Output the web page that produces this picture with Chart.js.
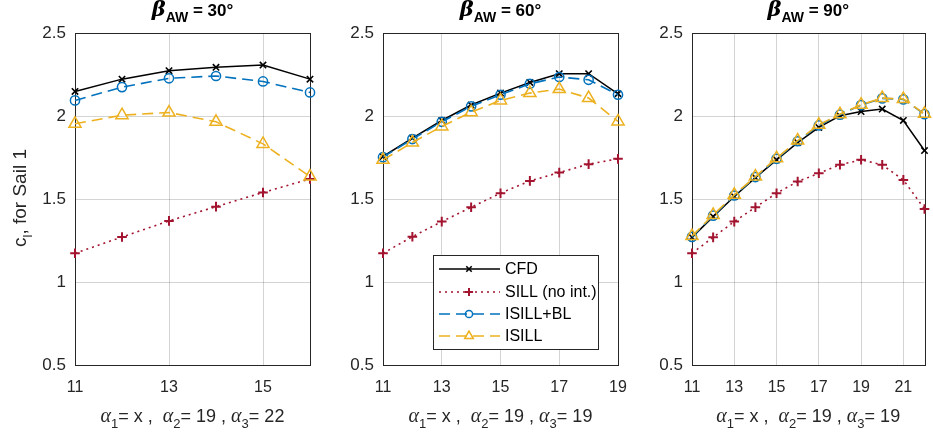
<!DOCTYPE html>
<html>
<head>
<meta charset="utf-8">
<script src="https://cdn.jsdelivr.net/npm/chart.js@4.4.1/dist/chart.umd.min.js"></script>
<style>
  html, body { margin: 0; padding: 0; background: #ffffff; }
  #wrap { position: relative; width: 933px; height: 435px; overflow: hidden; }
  #wrap canvas { position: absolute; left: 0; top: 0; }
</style>
</head>
<body>
<div id="wrap">
  <canvas id="c1" width="933" height="435"></canvas>
  <canvas id="c2" width="933" height="435"></canvas>
  <canvas id="c3" width="933" height="435"></canvas>
</div>
<script>
// Lift coefficient of sail 1 against its angle of attack alpha_1,
// for three apparent wind angles.

// beta_AW = 30 deg  (alpha_2 = 19, alpha_3 = 22)
const alphaP1   = [11, 12, 13, 14, 15, 16];
const cfdP1     = [2.148, 2.222, 2.273, 2.293, 2.307, 2.222];
const sillP1    = [1.173, 1.271, 1.368, 1.454, 1.539, 1.621];
const isillBlP1 = [2.094, 2.174, 2.227, 2.241, 2.208, 2.142];
const isillP1   = [1.953, 2.005, 2.021, 1.965, 1.832, 1.635];

// beta_AW = 60 deg  (alpha_2 = 19, alpha_3 = 19)
const alphaP2   = [11, 12, 13, 14, 15, 16, 17, 18, 19];
const cfdP2     = [1.756, 1.867, 1.973, 2.066, 2.138, 2.202, 2.255, 2.255, 2.134];
const sillP2    = [1.173, 1.273, 1.364, 1.450, 1.535, 1.609, 1.659, 1.710, 1.742];
const isillBlP2 = [1.752, 1.861, 1.965, 2.058, 2.128, 2.194, 2.235, 2.218, 2.128];
const isillP2   = [1.736, 1.840, 1.937, 2.023, 2.094, 2.138, 2.162, 2.108, 1.967];

// beta_AW = 90 deg  (alpha_2 = 19, alpha_3 = 19)
const alphaP3   = [11, 12, 13, 14, 15, 16, 17, 18, 19, 20, 21, 22];
const cfdP3     = [1.269, 1.394, 1.515, 1.629, 1.736, 1.840, 1.931, 2.001, 2.027, 2.042, 1.973, 1.792];
const sillP3    = [1.173, 1.269, 1.364, 1.450, 1.535, 1.605, 1.655, 1.706, 1.736, 1.706, 1.615, 1.440];
const isillBlP3 = [1.272, 1.400, 1.521, 1.632, 1.742, 1.848, 1.943, 2.008, 2.066, 2.106, 2.100, 2.011];
const isillP3   = [1.277, 1.404, 1.525, 1.635, 1.746, 1.852, 1.947, 2.011, 2.068, 2.108, 2.102, 2.013];

// Tick labels
const xTicksP1 = [11, 13, 15];
const xTicksP2 = [11, 13, 15, 17, 19];
const xTicksP3 = [11, 13, 15, 17, 19, 21];
const yTicks   = [0.5, 1, 1.5, 2, 2.5];

// Series names and panel captions
const seriesNames = ['CFD', 'SILL (no int.)', 'ISILL+BL', 'ISILL'];
const betaLabels  = ['30°', '60°', '90°'];
const alpha3Labels = ['22', '19', '19'];

// ---- styling ----
const AX = '#262626';
const GRID = 'rgba(0,0,0,0.17)';
const SANS = "'Liberation Sans', Arial, Helvetica, sans-serif";

const seriesStyle = [
  { color: '#000000', dash: [],      width: 1.5, point: 'crossRot', radius: 4.5, pw: 1.6, order: 3 },
  { color: '#A2142F', dash: [2, 4],  width: 1.6, point: 'cross',    radius: 4.8, pw: 2.0, order: 2 },
  { color: '#0072BD', dash: [11, 6], width: 1.6, point: 'circle',   radius: 4.6, pw: 1.5, order: 1 },
  { color: '#EDB120', dash: [11, 6], width: 1.6, point: 'triangle', radius: 7.0, pw: 1.5, order: 0 }
];

const TOP = 33, BOTTOM = 365, W = 933, H = 435;
const Y_AXIS_W = 40, X_AXIS_H = 30;

const panels = [
  { id: 'c1', left: 75,  right: 310, x: alphaP1, xMax: 16, xTicks: xTicksP1,
    series: [cfdP1, sillP1, isillBlP1, isillP1], beta: betaLabels[0], a3: alpha3Labels[0], legend: false, yTitle: true },
  { id: 'c2', left: 383, right: 618, x: alphaP2, xMax: 19, xTicks: xTicksP2,
    series: [cfdP2, sillP2, isillBlP2, isillP2], beta: betaLabels[1], a3: alpha3Labels[1], legend: true, yTitle: false },
  { id: 'c3', left: 692, right: 927, x: alphaP3, xMax: 22, xTicks: xTicksP3,
    series: [cfdP3, sillP3, isillBlP3, isillP3], beta: betaLabels[2], a3: alpha3Labels[2], legend: false, yTitle: false }
];

// Draw a run of text pieces {t, font, dy} starting at x, baseline y
function measureRuns(ctx, runs) {
  let w = 0;
  runs.forEach(r => { ctx.font = r.font; w += ctx.measureText(r.t).width; });
  return w;
}
function drawRuns(ctx, runs, x, y) {
  runs.forEach(r => {
    ctx.font = r.font;
    ctx.fillText(r.t, x, y + (r.dy || 0));
    x += ctx.measureText(r.t).width;
  });
}

// Marker shapes for the legend samples
function drawMarker(ctx, s, x, y) {
  ctx.save();
  ctx.strokeStyle = s.color;
  ctx.lineWidth = s.pw;
  ctx.setLineDash([]);
  ctx.beginPath();
  const r = s.radius;
  if (s.point === 'crossRot') {
    const o = r * Math.SQRT1_2;
    ctx.moveTo(x - o, y - o); ctx.lineTo(x + o, y + o);
    ctx.moveTo(x - o, y + o); ctx.lineTo(x + o, y - o);
  } else if (s.point === 'cross') {
    ctx.moveTo(x - r, y); ctx.lineTo(x + r, y);
    ctx.moveTo(x, y - r); ctx.lineTo(x, y + r);
  } else if (s.point === 'circle') {
    ctx.arc(x, y, r, 0, Math.PI * 2);
  } else if (s.point === 'triangle') {
    for (let k = 0; k < 3; k++) {
      const a = k * 2 * Math.PI / 3;
      const px = x + Math.sin(a) * r, py = y - Math.cos(a) * r;
      if (k === 0) ctx.moveTo(px, py); else ctx.lineTo(px, py);
    }
    ctx.closePath();
  }
  ctx.stroke();
  ctx.restore();
}

const decorations = {
  id: 'decorations',
  beforeDatasetsDraw(chart, args, opts) {
    const a = chart.chartArea;
    const ctx = chart.ctx;
    ctx.save();
    ctx.strokeStyle = AX;
    ctx.lineWidth = 1;
    ctx.strokeRect(Math.round(a.left) + 0.5, Math.round(a.top) + 0.5,
                   Math.round(a.right - a.left), Math.round(a.bottom - a.top));
    ctx.restore();
  },
  afterDraw(chart, args, opts) {
    const a = chart.chartArea;
    const ctx = chart.ctx;
    const cx = (a.left + a.right) / 2;
    ctx.save();
    ctx.fillStyle = '#000000';
    ctx.textBaseline = 'alphabetic';
    ctx.textAlign = 'left';

    // Panel title: beta_AW = ..°
    const titleRuns = [
      { t: 'β', font: "bold italic 21px 'DejaVu Serif', serif" },
      { t: 'AW', font: `bold 14px ${SANS}`, dy: 6 },
      { t: ' = ' + opts.beta, font: `bold 17px ${SANS}` }
    ];
    const tw = measureRuns(ctx, titleRuns);
    drawRuns(ctx, titleRuns, cx - tw / 2, 16);

    // x-axis caption: alpha_1 = x , alpha_2 = 19 , alpha_3 = ..
    ctx.fillStyle = AX;
    const AF = "italic 20px 'Liberation Serif', serif";
    const MF = `18px ${SANS}`;
    const SF = `13px ${SANS}`;
    const xRuns = [
      { t: 'α', font: AF }, { t: '1', font: SF, dy: 6 }, { t: '= x ,  ', font: MF },
      { t: 'α', font: AF }, { t: '2', font: SF, dy: 6 }, { t: '= 19 , ', font: MF },
      { t: 'α', font: AF }, { t: '3', font: SF, dy: 6 }, { t: '= ' + opts.a3, font: MF }
    ];
    const xw = measureRuns(ctx, xRuns);
    drawRuns(ctx, xRuns, cx - xw / 2, 422);

    // y-axis caption (first panel only)
    if (opts.yTitle) {
      const yRuns = [
        { t: 'c', font: `19px ${SANS}` },
        { t: 'l', font: `13px ${SANS}`, dy: 6 },
        { t: ', for Sail 1', font: `19px ${SANS}` }
      ];
      const yw = measureRuns(ctx, yRuns);
      ctx.save();
      ctx.translate(26, 198);
      ctx.rotate(-Math.PI / 2);
      drawRuns(ctx, yRuns, -yw / 2, 0);
      ctx.restore();
    }

    // Legend box
    if (opts.legend) {
      const bx = 433, by = 255, bw = 165, bh = 94;
      ctx.fillStyle = '#ffffff';
      ctx.fillRect(bx, by, bw, bh);
      ctx.strokeStyle = AX;
      ctx.lineWidth = 1;
      ctx.strokeRect(bx + 0.5, by + 0.5, bw, bh);
      const rows = [269, 292, 314, 336];
      seriesStyle.forEach((s, i) => {
        const y = rows[i];
        ctx.save();
        ctx.strokeStyle = s.color;
        ctx.lineWidth = s.width;
        ctx.setLineDash(s.dash);
        ctx.beginPath();
        ctx.moveTo(439, y); ctx.lineTo(500, y);
        ctx.stroke();
        ctx.restore();
        drawMarker(ctx, Object.assign({}, s, { radius: s.point === 'triangle' ? 5 : (s.point === 'circle' ? 3.6 : s.radius * 0.85) }), 469, y);
        ctx.fillStyle = '#000000';
        ctx.font = `16px ${SANS}`;
        ctx.textBaseline = 'middle';
        ctx.fillText(seriesNames[i], 505, y + 1);
      });
    }
    ctx.restore();
  }
};

panels.forEach(p => {
  const datasets = p.series.map((vals, i) => {
    const s = seriesStyle[i];
    return {
      label: seriesNames[i],
      data: p.x.map((xv, k) => ({ x: xv, y: vals[k] })),
      borderColor: s.color,
      borderWidth: s.width,
      borderDash: s.dash,
      pointStyle: s.point,
      pointRadius: s.radius,
      pointBorderWidth: s.pw,
      pointBorderColor: s.color,
      pointBackgroundColor: 'rgba(0,0,0,0)',
      fill: false,
      tension: 0,
      clip: false,
      order: s.order
    };
  });

  new Chart(document.getElementById(p.id), {
    type: 'line',
    data: { datasets },
    plugins: [decorations],
    options: {
      responsive: false,
      animation: false,
      events: [],
      layout: {
        padding: {
          left: p.left - Y_AXIS_W,
          right: W - p.right,
          top: TOP,
          bottom: H - BOTTOM - X_AXIS_H
        }
      },
      plugins: {
        legend: { display: false },
        tooltip: { enabled: false },
        title: { display: false },
        decorations: { beta: p.beta, a3: p.a3, legend: p.legend, yTitle: p.yTitle }
      },
      scales: {
        x: {
          type: 'linear',
          min: 11,
          max: p.xMax,
          border: { display: false },
          grid: { color: GRID, lineWidth: 1, drawTicks: false },
          ticks: { color: AX, font: { family: SANS, size: 16 }, padding: 13, maxRotation: 0,
                   callback: v => String(v) },
          afterBuildTicks: s => { s.ticks = p.xTicks.map(v => ({ value: v })); },
          afterFit: s => {
            s.height = X_AXIS_H;
            s.paddingLeft = s.paddingRight = s.paddingTop = s.paddingBottom = 0;
          }
        },
        y: {
          type: 'linear',
          min: 0.5,
          max: 2.5,
          border: { display: false },
          grid: { color: GRID, lineWidth: 1, drawTicks: false },
          ticks: { color: AX, font: { family: SANS, size: 17 }, padding: 9,
                   callback: v => String(v) },
          afterBuildTicks: s => { s.ticks = yTicks.map(v => ({ value: v })); },
          afterFit: s => {
            s.width = Y_AXIS_W;
            s.paddingLeft = s.paddingRight = s.paddingTop = s.paddingBottom = 0;
          }
        }
      }
    }
  });
});
</script>
</body>
</html>
